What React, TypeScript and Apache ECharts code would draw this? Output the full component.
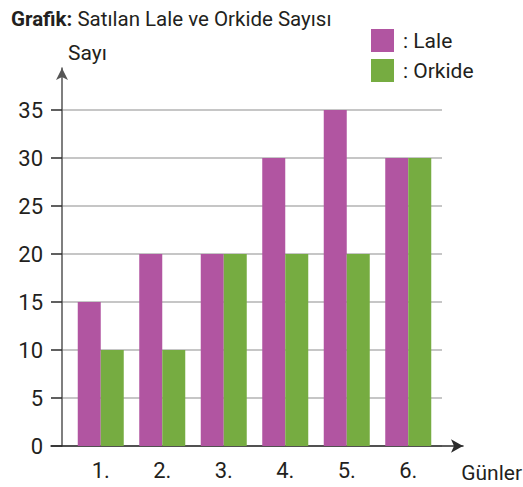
import React, { useEffect, useRef } from "react";
import * as echarts from "echarts";

const days = ["1.", "2.", "3.", "4.", "5.", "6."];
const laleValues = [15, 20, 20, 30, 35, 30];
const orkideValues = [10, 10, 20, 20, 20, 30];
const seriesNames = ["Lale", "Orkide"];
const yMin = 0;
const yMax = 35;
const yInterval = 5;

const FONT = "Roboto";
const TEXT = "#231f20";

export default function App() {
  const ref = useRef<HTMLDivElement>(null);
  useEffect(() => {
    if (!ref.current) return;
    const chart = echarts.init(ref.current, undefined, { renderer: "svg" });
    const gridTop = 110;
    const gridH = 336;
    chart.setOption({
      animation: false,
      backgroundColor: "#ffffff",
      textStyle: { fontFamily: FONT },
      title: [
        {
          text: "{b|Grafik:} {n|Satılan Lale ve Orkide Sayısı}",
          left: 6,
          top: 3,
          textStyle: {
            fontFamily: FONT,
            fontWeight: "normal",
            fontSize: 20.5,
            color: TEXT,
            rich: {
              b: { fontFamily: FONT, fontWeight: "bold", fontSize: 20.5, color: TEXT },
              n: { fontFamily: FONT, fontWeight: "normal", fontSize: 20.5, color: TEXT },
            },
          },
        },
        {
          text: "Sayı",
          left: 63,
          top: 37,
          textStyle: { fontFamily: FONT, fontSize: 21, fontWeight: "normal", color: TEXT },
        },
        {
          text: "Günler",
          right: 1,
          top: 462,
          padding: 0,
          textStyle: { fontFamily: FONT, fontSize: 21, fontWeight: "normal", color: TEXT },
        },
      ],
      legend: {
        orient: "vertical",
        left: 366,
        top: 24,
        itemWidth: 23,
        itemHeight: 23,
        itemGap: 7,
        icon: "rect",
        formatter: ": {name}",
        textStyle: { fontFamily: FONT, fontSize: 21, color: TEXT, padding: [0, 0, 0, 4] },
        data: seriesNames,
      },
      grid: [
        { left: 70, top: gridTop, width: 369, height: gridH },
        { left: 62, top: gridTop, width: 380, height: gridH },
        { left: 51, top: gridTop, width: 412, height: gridH },
        { left: 62, top: 68, width: 380, height: 446 - 68 },
      ],
      xAxis: [
        {
          gridIndex: 0,
          type: "category",
          data: days,
          axisLine: { show: false },
          axisTick: { show: false },
          axisLabel: { fontFamily: FONT, fontSize: 22, color: TEXT, margin: 13 },
        },
        { gridIndex: 1, type: "value", show: false },
        {
          gridIndex: 2,
          type: "value",
          axisLine: {
            show: true,
            lineStyle: { color: "#2b2b2b", width: 1.5 },
            symbol: ["none", "arrow"],
            symbolSize: [10, 12],
          },
          axisTick: { show: false },
          axisLabel: { show: false },
          splitLine: { show: false },
        },
        { gridIndex: 3, type: "value", show: false },
      ],
      yAxis: [
        { gridIndex: 0, type: "value", min: yMin, max: yMax, interval: yInterval, show: false },
        {
          gridIndex: 1,
          type: "value",
          min: yMin,
          max: yMax,
          interval: yInterval,
          axisLine: { show: false },
          axisTick: { show: true, length: 11, lineStyle: { color: "#2b2b2b", width: 1.5 } },
          axisLabel: { fontFamily: FONT, fontSize: 22, color: TEXT, margin: 19 },
          splitLine: { show: true, lineStyle: { color: "#b3b3b3", width: 1.5 } },
        },
        { gridIndex: 2, type: "value", show: false },
        {
          gridIndex: 3,
          type: "value",
          axisLine: {
            show: true,
            lineStyle: { color: "#555555", width: 1.5 },
            symbol: ["none", "arrow"],
            symbolSize: [9, 12],
          },
          axisTick: { show: false },
          axisLabel: { show: false },
          splitLine: { show: false },
        },
      ],
      series: [
        {
          name: seriesNames[0],
          type: "bar",
          xAxisIndex: 0,
          yAxisIndex: 0,
          data: laleValues,
          barWidth: 23,
          barGap: "0%",
          itemStyle: { color: "#b155a1" },
        },
        {
          name: seriesNames[1],
          type: "bar",
          xAxisIndex: 0,
          yAxisIndex: 0,
          data: orkideValues,
          barWidth: 23,
          barGap: "0%",
          itemStyle: { color: "#76ac41" },
        },
      ],
    });
    return () => chart.dispose();
  }, []);
  return <div ref={ref} style={{ width: 523, height: 487, position: "absolute", left: 0, top: 0 }} />;
}
